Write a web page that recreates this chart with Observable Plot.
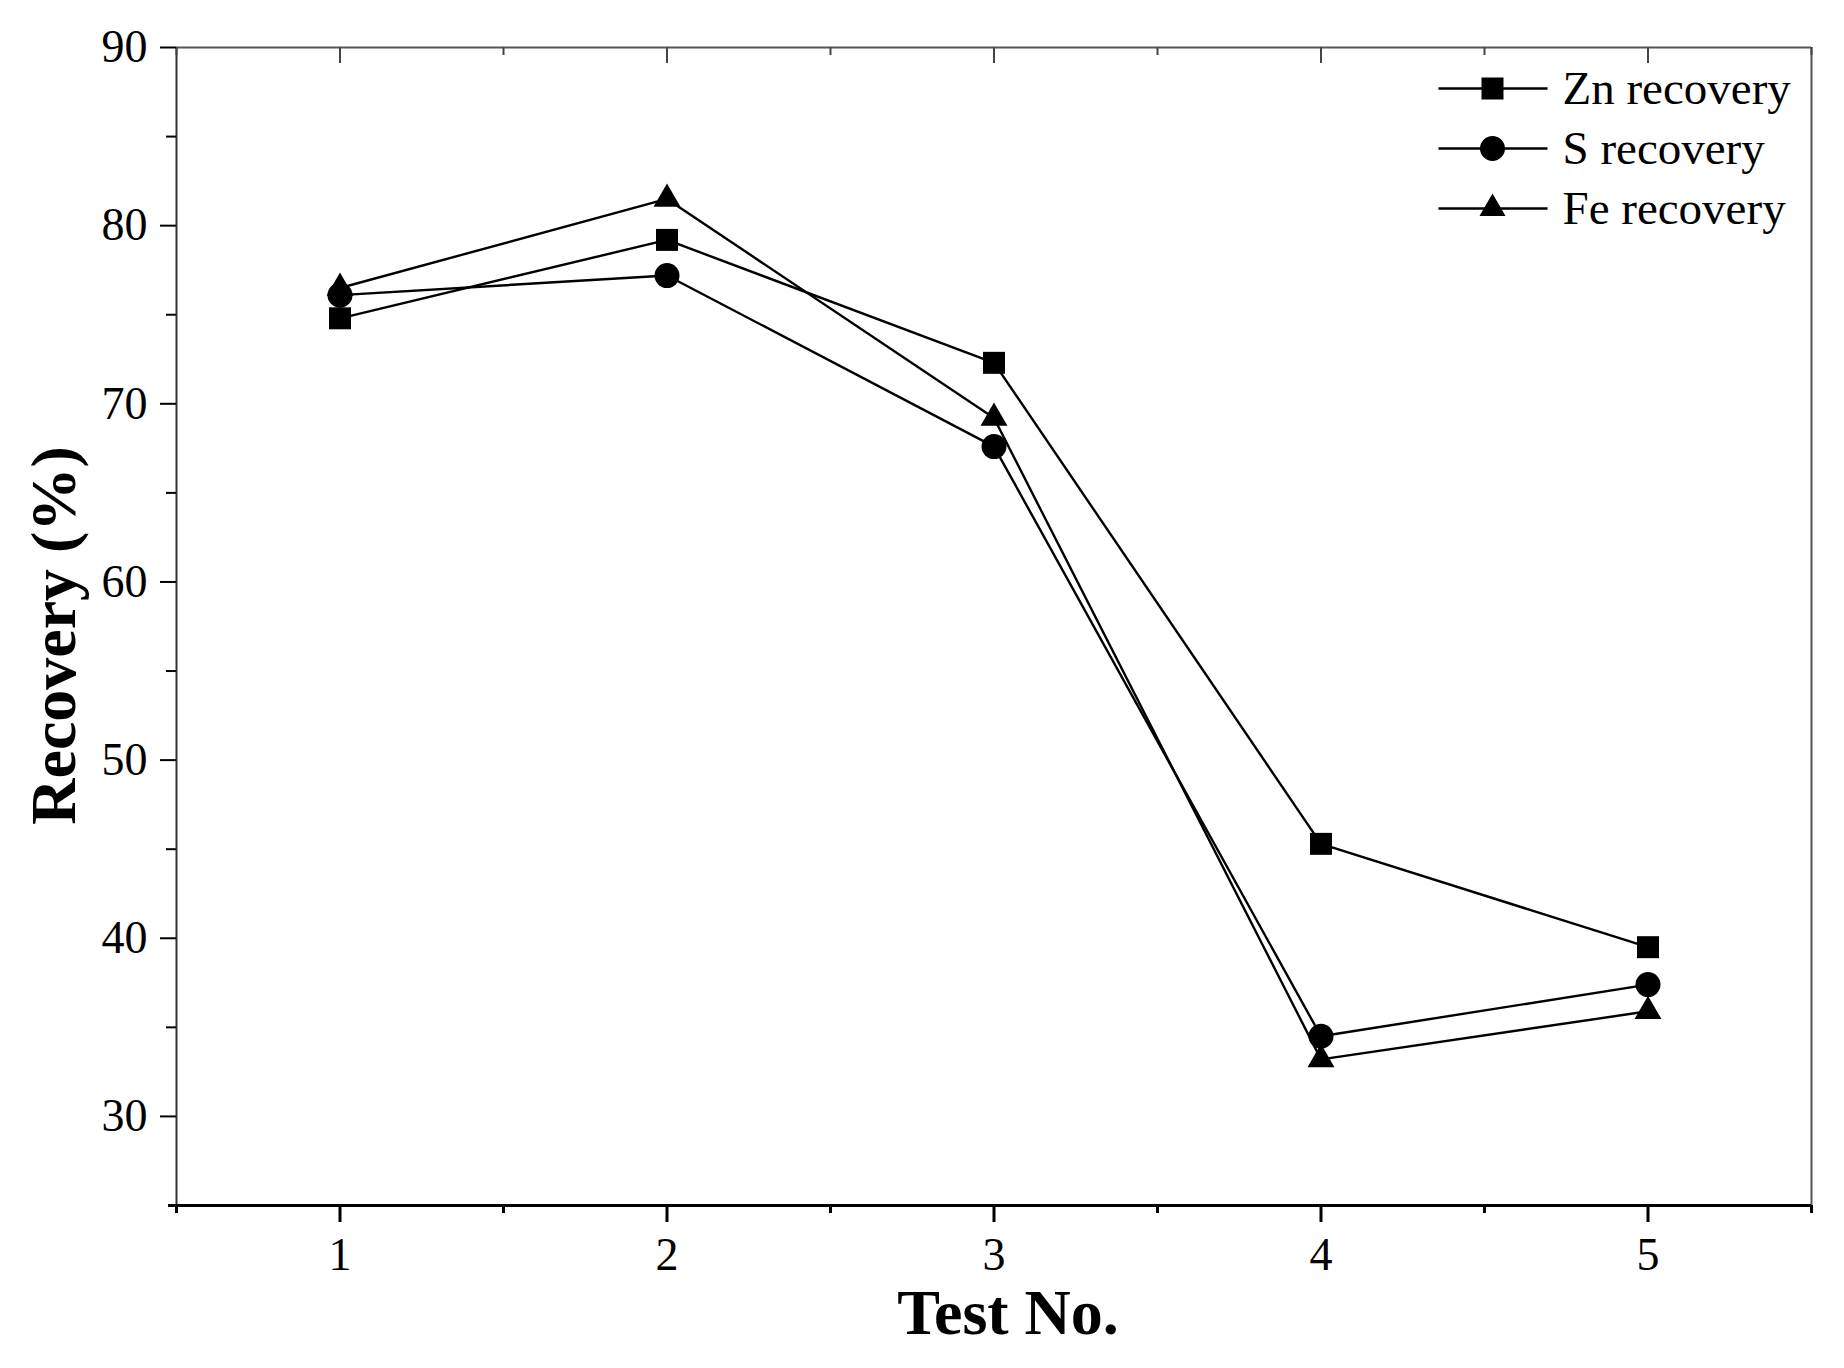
<!DOCTYPE html>
<html>
<head>
<meta charset="utf-8">
<script src="https://cdn.jsdelivr.net/npm/d3@7"></script>
<script src="https://cdn.jsdelivr.net/npm/@observablehq/plot@0.6"></script>
<style>
  html, body { margin: 0; padding: 0; background: #fff; }
  #chart svg { display: block; }
</style>
</head>
<body>
<div id="chart"></div>
<script>
// ---- data ----
const tests = [1, 2, 3, 4, 5];
const seriesNames = ["Zn recovery", "S recovery", "Fe recovery"];
const znRecovery = [74.8, 79.2, 72.3, 45.3, 39.5];
const sRecovery  = [76.1, 77.2, 67.6, 34.5, 37.4];
const feRecovery = [76.5, 81.5, 69.2, 33.2, 35.9];
const yTicks = [30, 40, 50, 60, 70, 80, 90];
const yMinorTicks = [35, 45, 55, 65, 75, 85];
const xTicks = [1, 2, 3, 4, 5];
const xMinorTicks = [0.5, 1.5, 2.5, 3.5, 4.5, 5.5];
const xDomain = [0.5, 5.5];
const yDomain = [25, 90];
const xLabel = "Test No.";
const yLabel = "Recovery (%)";

// ---- layout ----
const W = 1844, H = 1368;
const mL = 176, mR = 33, mT = 47, mB = 163;
const plotH = H - mT - mB;
const serif = "'Liberation Serif', 'Times New Roman', serif";

const values = [znRecovery, sRecovery, feRecovery];
const rows = [];
seriesNames.forEach((name, k) => tests.forEach((t, i) => rows.push({series: name, test: t, value: values[k][i]})));
const bySeries = name => rows.filter(d => d.series === name);

// legend symbols: line segment + marker
const seg = ctx => { ctx.rect(-54, -1.25, 109, 2.5); };
const legSquare = {draw(ctx) { seg(ctx); ctx.rect(-11, -11, 22, 22); }};
const legCircle = {draw(ctx) { seg(ctx); ctx.moveTo(12.5, 0); ctx.arc(0, 0, 12.5, 0, 2 * Math.PI); ctx.closePath(); }};
const legTriangle = {draw(ctx) { seg(ctx); ctx.moveTo(0, -15); ctx.lineTo(13, 7.5); ctx.lineTo(-13, 7.5); ctx.closePath(); }};
const legSymbols = [legSquare, legCircle, legTriangle];
const legRowDy = [41, 101, 161];

const legendMarks = seriesNames.flatMap((name, k) => [
  Plot.dot([name], {x: null, y: null, frameAnchor: "top-right", dx: -319, dy: legRowDy[k],
    symbol: legSymbols[k], r: 5, fill: "black", stroke: "none"}),
  Plot.text([name], {x: null, y: null, frameAnchor: "top-right", dx: -249, dy: legRowDy[k],
    text: d => d, textAnchor: "start", lineAnchor: "middle", fontSize: 47, fontFamily: serif, fill: "black"})
]);

const chart = Plot.plot({
  width: W,
  height: H,
  marginLeft: mL,
  marginRight: mR,
  marginTop: mT,
  marginBottom: mB,
  x: {domain: xDomain},
  y: {domain: yDomain},
  style: {fontFamily: serif, fontSize: "46px", color: "black", background: "white"},
  marks: [
    // frame
    Plot.ruleY([yDomain[1]], {stroke: "#555", strokeWidth: 2}),
    Plot.ruleX([xDomain[1]], {stroke: "#555", strokeWidth: 2}),
    Plot.ruleX([xDomain[0]], {stroke: "#333", strokeWidth: 2}),
    // top inward ticks
    Plot.tickX(xTicks, {x: d => d, insetBottom: plotH - 16, stroke: "#444", strokeWidth: 2}),
    Plot.tickX(xMinorTicks, {x: d => d, insetBottom: plotH - 8, stroke: "#444", strokeWidth: 2}),
    // axes
    Plot.axisY(yTicks, {tickSize: 16, tickPadding: 13, tickFormat: d => String(d), fontSize: 46, fontFamily: serif, stroke: "black", strokeWidth: 2, label: null}),
    Plot.axisY(yMinorTicks, {tickSize: 10, tickFormat: () => "", stroke: "black", strokeWidth: 2, label: null}),
    Plot.axisX(xTicks, {tickSize: 17, tickPadding: 15, tickFormat: d => String(d), fontSize: 46, fontFamily: serif, stroke: "black", strokeWidth: 3, label: null}),
    Plot.axisX(xMinorTicks, {tickSize: 8, tickFormat: () => "", stroke: "black", strokeWidth: 3, label: null}),
    Plot.ruleY([yDomain[0]], {stroke: "black", strokeWidth: 3, insetLeft: -8}),
    // data
    Plot.line(rows, {x: "test", y: "value", z: "series", stroke: "black", strokeWidth: 2.4}),
    Plot.dot(bySeries(seriesNames[0]), {x: "test", y: "value", symbol: "square", r: 12.4, fill: "black", stroke: "none"}),
    Plot.dot(bySeries(seriesNames[1]), {x: "test", y: "value", symbol: "circle", r: 12.5, fill: "black", stroke: "none"}),
    Plot.dot(bySeries(seriesNames[2]), {x: "test", y: "value", symbol: "triangle", r: 10, fill: "black", stroke: "none"}),
    // legend
    ...legendMarks,
    // axis titles
    Plot.text([xLabel], {x: null, y: null, frameAnchor: "bottom", dx: 14, dy: 108, text: d => d,
      textAnchor: "middle", lineAnchor: "middle", fontSize: 64, fontWeight: "bold", fontFamily: serif, fill: "black"}),
    Plot.text([yLabel], {x: null, y: null, frameAnchor: "left", rotate: -90, dx: -122, dy: 9, text: d => d,
      textAnchor: "middle", lineAnchor: "middle", fontSize: 64, fontWeight: "bold", fontFamily: serif, fill: "black"})
  ]
});
document.getElementById("chart").append(chart);
</script>
</body>
</html>
